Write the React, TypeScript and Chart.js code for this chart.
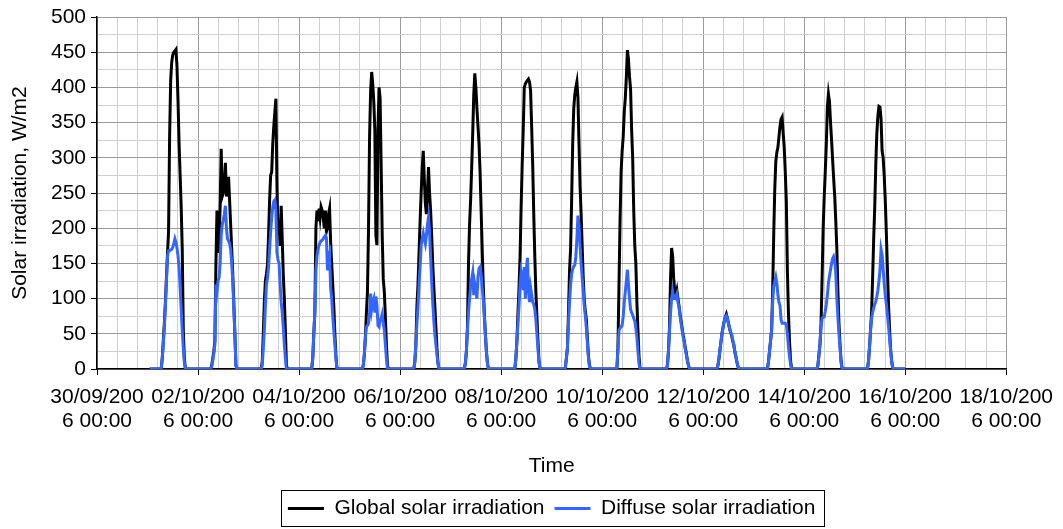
import { useEffect, useRef } from "react";
import { Chart, registerables } from "chart.js";

Chart.register(...registerables);

// Half-hour sampling grid for each daylight period (hours of the day)
const HALF_HOURS = [6, 6.5, 7, 7.5, 8, 8.5, 9, 9.5, 10, 10.5, 11, 11.5, 12, 12.5, 13, 13.5, 14, 14.5, 15, 15.5, 16, 16.5, 17, 17.5, 18, 18.5, 19];

// Days after 30/09/2006 00:00 (1 = 01/10/2006 ... 15 = 15/10/2006)
const DAY_OFFSETS = [1, 2, 3, 4, 5, 6, 7, 8, 9, 10, 11, 12, 13, 14, 15];

// First and last record of the series (night, 0 W/m2)
const FIRST_RECORD = { day: 1, hour: 1, value: 0 };
const LAST_RECORD = { day: 16, hour: 0, value: 0 };

// Global solar irradiation, W/m2
const globalOct01 = [0, 0, 15, 40, 65, 95, 130, 165, 195, 330, 410, 436, 446, 450, 452, 454, 430, 380, 320, 275, 230, 170, 55, 15, 0, 0, 0];
const globalOct02 = [0, 5, 15, 25, 40, 150, 225, 165, 185, 230, 313, 245, 250, 265, 293, 245, 258, 273, 240, 205, 170, 135, 95, 50, 5, 0, 0];
const globalOct03 = [0, 10, 50, 95, 125, 135, 148, 190, 240, 275, 280, 320, 345, 365, 384, 260, 190, 210, 175, 232, 185, 135, 100, 55, 5, 0, 0];
const globalOct04 = [0, 15, 50, 80, 200, 225, 210, 228, 215, 230, 225, 215, 200, 225, 195, 200, 220, 228, 180, 150, 120, 90, 50, 20, 0, 0, 0];
const globalOct05 = [0, 5, 20, 45, 80, 110, 200, 330, 395, 422, 405, 380, 340, 190, 176, 340, 400, 385, 290, 190, 128, 110, 75, 35, 5, 0, 0];
const globalOct06 = [0, 0, 10, 35, 90, 120, 165, 210, 250, 285, 310, 270, 235, 220, 250, 287, 250, 225, 190, 150, 118, 90, 60, 30, 8, 0, 0];
const globalOct07 = [0, 0, 8, 25, 60, 150, 205, 240, 285, 335, 390, 420, 400, 370, 345, 320, 280, 225, 170, 120, 80, 50, 25, 8, 0, 0, 0];
const globalOct08 = [0, 0, 15, 40, 80, 115, 160, 230, 290, 340, 400, 405, 408, 410, 412, 408, 395, 345, 290, 220, 160, 110, 75, 40, 10, 0, 0];
const globalOct09 = [0, 2, 15, 30, 80, 140, 170, 240, 320, 370, 390, 400, 408, 385, 320, 260, 220, 175, 130, 98, 82, 70, 42, 18, 5, 0, 0];
const globalOct10 = [0, 0, 0, 30, 120, 210, 280, 310, 330, 365, 385, 415, 453, 440, 415, 398, 340, 300, 225, 175, 150, 95, 55, 18, 0, 0, 0];
const globalOct11 = [0, 0, 5, 25, 60, 130, 172, 160, 128, 110, 105, 112, 100, 90, 78, 68, 58, 48, 40, 30, 22, 12, 5, 0, 0, 0, 0];
const globalOct12 = [0, 0, 5, 15, 28, 40, 52, 60, 68, 74, 78, 72, 65, 58, 52, 48, 40, 35, 25, 18, 10, 4, 0, 0, 0, 0, 0];
const globalOct13 = [0, 0, 10, 25, 40, 55, 110, 190, 255, 295, 308, 315, 330, 345, 355, 358, 335, 315, 280, 238, 140, 80, 40, 12, 0, 0, 0];
const globalOct14 = [0, 5, 20, 36, 65, 130, 200, 245, 280, 320, 373, 391, 380, 350, 325, 297, 270, 245, 210, 170, 110, 65, 35, 12, 0, 0, 0];
const globalOct15 = [0, 10, 30, 55, 80, 130, 185, 230, 290, 335, 360, 373, 372, 355, 310, 300, 275, 240, 195, 145, 95, 60, 30, 12, 2, 0, 0];

// Diffuse solar irradiation, W/m2
const diffuseOct01 = [0, 0, 15, 35, 60, 90, 125, 160, 168, 168, 169, 170, 173, 178, 185, 180, 172, 160, 145, 115, 85, 55, 30, 10, 0, 0, 0];
const diffuseOct02 = [0, 3, 12, 22, 35, 120, 110, 125, 130, 150, 190, 205, 212, 220, 232, 200, 185, 182, 178, 170, 150, 125, 85, 50, 5, 0, 0];
const diffuseOct03 = [0, 5, 30, 55, 90, 120, 130, 145, 170, 195, 215, 230, 238, 240, 225, 165, 155, 150, 120, 95, 80, 60, 35, 15, 0, 0, 0];
const diffuseOct04 = [0, 15, 50, 80, 140, 160, 170, 176, 180, 182, 183, 185, 188, 190, 186, 140, 160, 165, 115, 100, 75, 55, 35, 15, 0, 0, 0];
const diffuseOct05 = [0, 5, 20, 45, 60, 62, 65, 80, 107, 85, 95, 100, 80, 103, 90, 62, 60, 70, 72, 78, 65, 55, 35, 15, 0, 0, 0];
const diffuseOct06 = [0, 0, 10, 35, 65, 88, 120, 145, 175, 185, 193, 185, 178, 190, 205, 216, 195, 160, 125, 95, 70, 50, 35, 20, 8, 0, 0];
const diffuseOct07 = [0, 0, 8, 25, 55, 80, 100, 117, 128, 137, 105, 120, 110, 100, 130, 143, 145, 135, 115, 100, 75, 50, 25, 8, 0, 0, 0];
const diffuseOct08 = [0, 0, 15, 40, 65, 90, 120, 138, 130, 112, 145, 100, 140, 158, 110, 95, 115, 105, 95, 92, 85, 70, 50, 28, 10, 0, 0];
const diffuseOct09 = [0, 2, 15, 30, 65, 95, 120, 135, 142, 146, 148, 160, 185, 218, 205, 175, 150, 130, 112, 90, 75, 58, 35, 15, 3, 0, 0];
const diffuseOct10 = [0, 0, 0, 30, 55, 58, 60, 62, 75, 95, 110, 125, 141, 120, 100, 85, 80, 77, 72, 68, 58, 45, 25, 8, 0, 0, 0];
const diffuseOct11 = [0, 0, 5, 25, 55, 80, 100, 110, 100, 100, 103, 107, 95, 88, 75, 65, 55, 45, 38, 28, 20, 12, 5, 0, 0, 0, 0];
const diffuseOct12 = [0, 0, 5, 15, 28, 40, 52, 60, 68, 74, 76, 72, 65, 58, 52, 50, 42, 35, 25, 18, 10, 4, 0, 0, 0, 0, 0];
const diffuseOct13 = [0, 0, 10, 25, 40, 55, 95, 117, 125, 131, 122, 105, 95, 90, 70, 65, 65, 65, 65, 63, 50, 32, 18, 6, 0, 0, 0];
const diffuseOct14 = [0, 5, 20, 36, 60, 72, 73, 74, 82, 92, 105, 122, 132, 141, 150, 157, 160, 155, 135, 100, 74, 50, 30, 10, 0, 0, 0];
const diffuseOct15 = [0, 10, 30, 55, 72, 80, 87, 92, 96, 103, 112, 125, 141, 170, 162, 142, 122, 105, 93, 78, 62, 45, 27, 12, 2, 0, 0];

const GLOBAL_DAYS = [globalOct01, globalOct02, globalOct03, globalOct04, globalOct05, globalOct06, globalOct07, globalOct08, globalOct09, globalOct10, globalOct11, globalOct12, globalOct13, globalOct14, globalOct15];
const DIFFUSE_DAYS = [diffuseOct01, diffuseOct02, diffuseOct03, diffuseOct04, diffuseOct05, diffuseOct06, diffuseOct07, diffuseOct08, diffuseOct09, diffuseOct10, diffuseOct11, diffuseOct12, diffuseOct13, diffuseOct14, diffuseOct15];

// X tick labels every 2 days (wrapped as in the original)
const X_TICK_LABELS = [
  ["30/09/200", "6 00:00"],
  ["02/10/200", "6 00:00"],
  ["04/10/200", "6 00:00"],
  ["06/10/200", "6 00:00"],
  ["08/10/200", "6 00:00"],
  ["10/10/200", "6 00:00"],
  ["12/10/200", "6 00:00"],
  ["14/10/200", "6 00:00"],
  ["16/10/200", "6 00:00"],
  ["18/10/200", "6 00:00"],
];

const X_MIN = 0;
const X_MAX = 18;
const X_MAJOR = 2;
const X_MINOR = 0.4;
const Y_MIN = 0;
const Y_MAX = 500;
const Y_MAJOR = 50;
const Y_MINOR = 25;

const SERIES_NAMES = ["Global solar irradiation", "Diffuse solar irradiation"];

function buildSeries(days: number[][]) {
  const pts: { x: number; y: number }[] = [];
  pts.push({ x: FIRST_RECORD.day + FIRST_RECORD.hour / 24, y: FIRST_RECORD.value });
  days.forEach((vals, i) => {
    vals.forEach((v, j) => {
      pts.push({ x: DAY_OFFSETS[i] + HALF_HOURS[j] / 24, y: v });
    });
  });
  pts.push({ x: LAST_RECORD.day + LAST_RECORD.hour / 24, y: LAST_RECORD.value });
  return pts;
}

const isMultiple = (v: number, step: number) => Math.abs(v / step - Math.round(v / step)) < 1e-6;

const MAJOR_GRID = "#9a9a9a";
const MINOR_GRID = "#cfcfcf";
const FONT_FAMILY = "'Liberation Sans', Arial, sans-serif";

const legendFrame = {
  id: "legendFrame",
  afterDraw(chart: any) {
    const lg = chart.legend;
    if (!lg || !lg.legendHitBoxes || !lg.legendHitBoxes.length) return;
    const boxes = lg.legendHitBoxes;
    const left = Math.min(...boxes.map((b: any) => b.left)) - 7;
    const right = Math.max(...boxes.map((b: any) => b.left + b.width)) + 9;
    const top = boxes[0].top - 8;
    const bottom = boxes[0].top + boxes[0].height + 7;
    const ctx = chart.ctx;
    ctx.save();
    ctx.strokeStyle = "#000";
    ctx.lineWidth = 1;
    ctx.strokeRect(Math.round(left) + 0.5, Math.round(top) + 0.5, Math.round(right - left), Math.round(bottom - top));
    ctx.restore();
  },
};

export default function App() {
  const canvasRef = useRef<HTMLCanvasElement | null>(null);

  useEffect(() => {
    if (!canvasRef.current) return;
    Chart.defaults.color = "#000";
    const chart = new Chart(canvasRef.current, {
      type: "line",
      data: {
        datasets: [
          {
            label: SERIES_NAMES[0],
            data: buildSeries(GLOBAL_DAYS),
            borderColor: "#000000",
            backgroundColor: "#000000",
            borderWidth: 3,
            pointRadius: 0,
            tension: 0,
            order: 2,
          },
          {
            label: SERIES_NAMES[1],
            data: buildSeries(DIFFUSE_DAYS),
            borderColor: "#3366FF",
            backgroundColor: "#3366FF",
            borderWidth: 3,
            pointRadius: 0,
            tension: 0,
            order: 1,
          },
        ],
      },
      options: {
        animation: false,
        responsive: true,
        maintainAspectRatio: false,
        layout: { padding: { top: 17, right: 54, left: 0, bottom: 0 } },
        plugins: {
          tooltip: { enabled: false },
          legend: {
            position: "bottom",
            fullSize: false,
            labels: {
              usePointStyle: true,
              pointStyle: "line",
              pointStyleWidth: 36,
              boxHeight: 21,
              padding: 10,
              color: "#000",
              font: { family: FONT_FAMILY, size: 21 },
              sort: (a: any, b: any) => a.datasetIndex - b.datasetIndex,
            },
          },
        },
        scales: {
          x: {
            type: "linear",
            min: X_MIN,
            max: X_MAX,
            afterFit: (s: any) => {
              s.height = 119;
            },
            ticks: {
              stepSize: X_MINOR,
              autoSkip: false,
              maxRotation: 0,
              minRotation: 0,
              padding: 10,
              color: "#000",
              font: { family: FONT_FAMILY, size: 21, lineHeight: 1.15 },
              callback: (value: any) => {
                const v = Number(value);
                if (isMultiple(v, X_MAJOR)) return X_TICK_LABELS[Math.round(v / X_MAJOR)];
                return "";
              },
            },
            grid: {
              color: (ctx: any) => (ctx.tick && isMultiple(ctx.tick.value, X_MAJOR) ? MAJOR_GRID : MINOR_GRID),
              tickColor: (ctx: any) => (ctx.tick && isMultiple(ctx.tick.value, X_MAJOR) ? "#000" : "rgba(0,0,0,0)"),
              tickLength: 6,
              lineWidth: 1,
            },
            border: { color: "#000", width: 1.5 },
            title: {
              display: true,
              text: "Time",
              color: "#000",
              font: { family: FONT_FAMILY, size: 21, lineHeight: 1.15 },
              padding: { top: 0, bottom: 10 },
            },
          },
          y: {
            min: Y_MIN,
            max: Y_MAX,
            afterFit: (s: any) => {
              s.width = 97;
            },
            ticks: {
              stepSize: Y_MINOR,
              autoSkip: false,
              padding: 5,
              color: "#000",
              font: { family: FONT_FAMILY, size: 21, lineHeight: 1.15 },
              callback: (value: any) => {
                const v = Number(value);
                return isMultiple(v, Y_MAJOR) ? String(Math.round(v)) : "";
              },
            },
            grid: {
              color: (ctx: any) => (ctx.tick && isMultiple(ctx.tick.value, Y_MAJOR) ? MAJOR_GRID : MINOR_GRID),
              tickColor: (ctx: any) => (ctx.tick && isMultiple(ctx.tick.value, Y_MAJOR) ? "#000" : "rgba(0,0,0,0)"),
              tickLength: 6,
              lineWidth: 1,
            },
            border: { color: "#000", width: 1.5 },
            title: {
              display: true,
              text: "Solar irradiation, W/m2",
              color: "#000",
              font: { family: FONT_FAMILY, size: 21, lineHeight: 1.15 },
              padding: { top: 8, bottom: 0 },
            },
          },
        },
      },
      plugins: [legendFrame],
    });
    return () => chart.destroy();
  }, []);

  return (
    <div style={{ position: "fixed", left: 0, top: 0, width: 1063, height: 529, background: "#fff" }}>
      <canvas ref={canvasRef} style={{ display: "block" }} />
    </div>
  );
}
